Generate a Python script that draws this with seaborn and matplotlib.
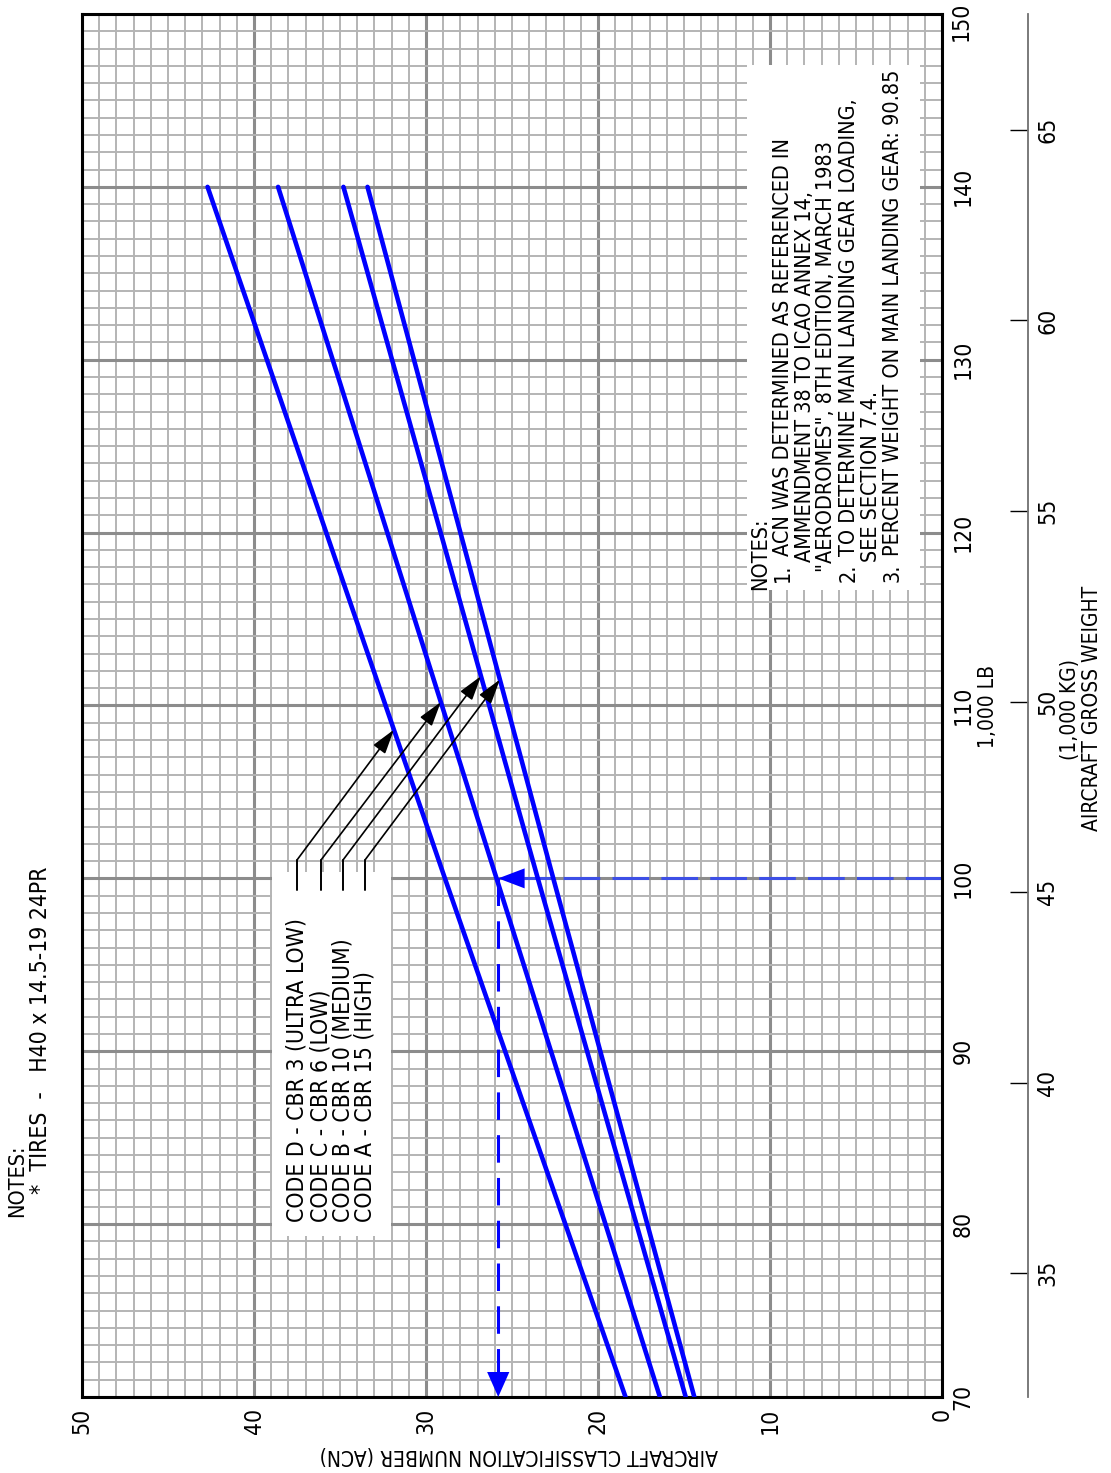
import numpy as np
import pandas as pd
import matplotlib.pyplot as plt
import seaborn as sns
from matplotlib import font_manager
from matplotlib.ticker import MultipleLocator
from matplotlib.patches import Rectangle

# ACN at a few gross weights (1,000 LB)
weight_lb = [70, 100, 140]
acn_code_d = [18.4, 28.9, 42.7]   # CBR 3 ultra low
acn_code_c = [16.4, 25.9, 38.6]   # CBR 6 low
acn_code_b = [14.9, 23.5, 34.8]   # CBR 10 medium
acn_code_a = [14.4, 22.6, 33.4]   # CBR 15 high
codes = ['D', 'C', 'B', 'A']

acn_ticks = [0, 10, 20, 30, 40, 50]
lb_ticks = [70, 80, 90, 100, 110, 120, 130, 140, 150]
kg_ticks = [35, 40, 45, 50, 55, 60, 65]

legend_labels = ['CODE D - CBR 3 (ULTRA LOW)',
                 'CODE C - CBR 6 (LOW)',
                 'CODE B - CBR 10 (MEDIUM)',
                 'CODE A - CBR 15 (HIGH)']
# where each leader arrow hits its curve (1,000 LB)
arrow_weight = [108.6, 110.2, 111.7, 111.5]

example_weight = 100
example_acn = 25.8

notes = [
    ('NOTES:', 760, 590),
    ('1.', 783, 582), ('ACN WAS DETERMINED AS REFERENCED IN', 783, 556),
    ('AMMENDMENT 38 TO ICAO ANNEX 14,', 805, 562),
    ('"AERODROMES", 8TH EDITION, MARCH 1983', 826, 572),
    ('2.', 849, 582), ('TO DETERMINE MAIN LANDING GEAR LOADING,', 849, 556),
    ('SEE SECTION 7.4.', 871, 562),
    ('3.', 893, 582), ('PERCENT WEIGHT ON MAIN LANDING GEAR: 90.85', 893, 556),
]

df = pd.DataFrame({
    'weight': weight_lb * 4,
    'acn': acn_code_d + acn_code_c + acn_code_b + acn_code_a,
    'code': [c for c in codes for _ in weight_lb],
})

sns.set_style('white')
names = {f.name for f in font_manager.fontManager.ttflist}
if 'Liberation Sans Narrow' in names:
    plt.rcParams['font.family'] = ['Liberation Sans Narrow', 'DejaVu Sans']
else:
    plt.rcParams['font.family'] = ['DejaVu Sans']
    plt.rcParams['font.stretch'] = 'condensed'
plt.rcParams['text.color'] = 'black'
plt.rcParams['xtick.color'] = 'black'
plt.rcParams['ytick.color'] = 'black'
FS = 16.5    # ticks and legend
FS_N = 15.5  # notes box
FS_L = 15    # axis titles

W, H = 1111, 1473
fig = plt.figure(figsize=(W / 100, H / 100), dpi=100)
ax = fig.add_axes([82 / W, 1 - 1397 / H, 860 / W, 1383 / H])

def fpos(x, y):
    return x / W, 1 - y / H

def dpos(x, y):
    # pixel -> data (acn, weight)
    return (942 - x) / 17.2, 70 + (1397 - y) / 17.2875

sns.lineplot(data=df, x='acn', y='weight', hue='code', orient='y',
             palette={c: '#0000ff' for c in codes}, lw=3.3, legend=False,
             ax=ax, zorder=3)

ax.set_xlim(50, 0)
ax.set_ylim(70, 150)
ax.set_xticks(acn_ticks)
ax.set_yticks(lb_ticks)
# top label is nudged down by hand below so it stays on the page
ax.set_yticklabels([str(t) for t in lb_ticks[:-1]] + [''])
ax.xaxis.set_minor_locator(MultipleLocator(1))
ax.yaxis.set_minor_locator(MultipleLocator(1))
ax.grid(which='major', color='#8c8c8c', lw=2.2)
ax.grid(which='minor', color='#b4b4b4', lw=1.4)
ax.set_axisbelow(True)
ax.yaxis.tick_right()
ax.tick_params(axis='x', which='major', length=0, pad=8, labelsize=FS, labelrotation=90)
ax.tick_params(axis='y', which='major', length=0, pad=7, labelsize=FS, labelrotation=90)
ax.tick_params(which='minor', length=0)
plt.setp(ax.get_yticklabels(), va='center')
ax.set_xlabel('')
ax.set_ylabel('')
for s in ax.spines.values():
    s.set_visible(True)
    s.set_color('black')
    s.set_linewidth(2.2)
fig.text(*fpos(961, 21), str(lb_ticks[-1]), rotation=90, ha='center', va='center', fontsize=FS)

# kg scale
sec = ax.secondary_yaxis(1.1, functions=(lambda lb: lb * 0.45359237,
                                         lambda kg: kg / 0.45359237))
sec.set_yticks(kg_ticks)
sec.spines['right'].set_color('#707070')
sec.spines['right'].set_linewidth(1.3)
sec.tick_params(direction='in', length=13, width=1, color='black', pad=6,
                labelsize=FS, labelrotation=90)
plt.setp(sec.get_yticklabels(), va='center')

# white boxes
x0, y0 = dpos(272, 1236)
x1, y1 = dpos(391, 872)
ax.add_patch(Rectangle((x1, y0), x0 - x1, y1 - y0, facecolor='white', edgecolor='none', zorder=1))
x0, y0 = dpos(747, 590)
x1, y1 = dpos(920, 65)
ax.add_patch(Rectangle((x1, y0), x0 - x1, y1 - y0, facecolor='white', edgecolor='none', zorder=1))

# legend text and leaders
curves = [acn_code_d, acn_code_c, acn_code_b, acn_code_a]
for i, (lab, px) in enumerate(zip(legend_labels, [297, 321, 343, 365])):
    a, _ = dpos(px, 0)
    _, wt = dpos(0, 1222)
    ax.text(a, wt, lab, rotation=90, ha='center', va='bottom', fontsize=FS, zorder=4)
    _, wb = dpos(0, 890)
    _, wk = dpos(0, 860)
    ax.plot([a, a], [wb, wk], color='black', lw=1.4, zorder=4)
    tip = (np.interp(arrow_weight[i], weight_lb, curves[i]), arrow_weight[i])
    ax.annotate('', xy=tip, xytext=(a, wk),
                arrowprops=dict(arrowstyle='-|>,head_length=1.5,head_width=0.45',
                                color='black', lw=1.2, shrinkA=0, shrinkB=0),
                zorder=4)

# example reading at 100,000 LB
ax.plot([0, example_acn - 1.5], [example_weight, example_weight], color='#3d4fe6',
        lw=2.2, ls=(0, (12, 4)), zorder=2.5)
ax.plot([example_acn, example_acn], [example_weight, 71.4], color='#0000ff',
        lw=2.2, ls=(0, (9, 5)), zorder=2.5)
ax.annotate('', xy=(example_acn, example_weight), xytext=(example_acn - 1.6, example_weight),
            arrowprops=dict(arrowstyle='-|>,head_length=1.9,head_width=0.72',
                            color='#0000ff', lw=0, shrinkA=0, shrinkB=0), zorder=4)
ax.annotate('', xy=(example_acn, 70), xytext=(example_acn, 71.5),
            arrowprops=dict(arrowstyle='-|>,head_length=1.8,head_width=0.8',
                            color='#0000ff', lw=0, shrinkA=0, shrinkB=0), zorder=4)

# notes box
for txt, px, py in notes:
    a, w = dpos(px, py)
    ax.text(a, w, txt, rotation=90, ha='center', va='bottom', fontsize=FS_N, zorder=4)

# outer labels
fig.text(*fpos(17, 1217), 'NOTES:', rotation=90, ha='center', va='bottom', fontsize=FS_N)
fig.text(*fpos(41, 1194), '*  TIRES  -   H40 x 14.5-19 24PR', rotation=90,
         ha='center', va='bottom', fontsize=FS)
fig.text(*fpos(988, 706), '1,000 LB', rotation=90, ha='center', va='center', fontsize=FS_L)
fig.text(*fpos(1070, 710), '(1,000 KG)', rotation=90, ha='center', va='center', fontsize=FS_L)
fig.text(*fpos(1092, 708), 'AIRCRAFT GROSS WEIGHT', rotation=90, ha='center', va='center', fontsize=FS_L)
fig.text(*fpos(519, 1455), 'AIRCRAFT CLASSIFICATION NUMBER (ACN)', rotation=180,
         ha='center', va='center', fontsize=FS_L)

fig.savefig('out.png', dpi=100, facecolor='w')
